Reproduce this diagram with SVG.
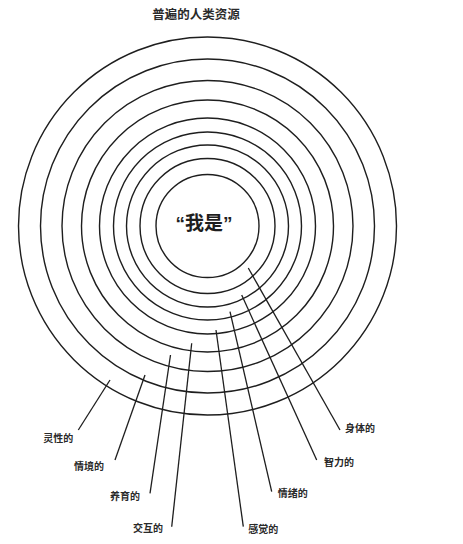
<svg xmlns="http://www.w3.org/2000/svg" width="463" height="544" viewBox="0 0 463 544">
<style>
.ring{fill:none;stroke:#1e1e1e;stroke-width:1.4}
.lead{stroke:#1e1e1e;stroke-width:1.3;fill:none}
.lbl{font-family:"Liberation Sans","Noto Sans CJK SC",sans-serif;font-size:10px;font-weight:bold;fill:#2a2a2a}
.title{font-family:"Liberation Sans","Noto Sans CJK SC",sans-serif;font-size:12.5px;font-weight:bold;fill:#2a2a2a}
.core{font-family:"Liberation Sans","Noto Sans CJK SC",sans-serif;font-size:19px;font-weight:bold;fill:#1e1e1e}
</style>
<rect width="463" height="544" fill="#ffffff"/>
<text id="title" class="title" x="196" y="18.5" text-anchor="middle">普遍的人类资源</text>
<g id="rings">
<circle id="ring1" class="ring" cx="207.5" cy="226" r="51.5"/>
<circle id="ring2" class="ring" cx="207.5" cy="226" r="67.5"/>
<circle id="ring3" class="ring" cx="207.5" cy="226" r="81"/>
<circle id="ring4" class="ring" cx="207.5" cy="226" r="94"/>
<circle id="ring5" class="ring" cx="207.5" cy="226" r="108"/>
<circle id="ring6" class="ring" cx="207.5" cy="226" r="126"/>
<circle id="ring7" class="ring" cx="207.5" cy="226" r="145.5"/>
<circle id="ring8" class="ring" cx="207.5" cy="226" r="167"/>
<circle id="ring9" class="ring" cx="207.5" cy="226" r="189"/>
</g>
<g id="core"><text class="core" x="204" y="230" text-anchor="middle">“我是”</text></g>
<g id="connectors">
<line class="lead" x1="248.3" y1="268" x2="340" y2="430"/>
<line class="lead" x1="241.7" y1="295" x2="316.7" y2="460"/>
<line class="lead" x1="230" y1="311.7" x2="271.7" y2="491.7"/>
<line class="lead" x1="216" y1="330" x2="243.3" y2="526.7"/>
<line class="lead" x1="191.7" y1="343.3" x2="171.7" y2="526.7"/>
<line class="lead" x1="170.5" y1="355" x2="150" y2="493.3"/>
<line class="lead" x1="145" y1="375" x2="115" y2="460"/>
<line class="lead" x1="110" y1="380" x2="78.3" y2="430"/>
</g>
<g id="label-body"><text class="lbl" x="345" y="432">身体的</text></g>
<g id="label-intellect"><text class="lbl" x="324" y="465.5">智力的</text></g>
<g id="label-emotion"><text class="lbl" x="277.7" y="497">情绪的</text></g>
<g id="label-sense"><text class="lbl" x="248.3" y="533">感觉的</text></g>
<g id="label-interact"><text class="lbl" x="133" y="532">交互的</text></g>
<g id="label-nurture"><text class="lbl" x="110" y="500">养育的</text></g>
<g id="label-context"><text class="lbl" x="74" y="470">情境的</text></g>
<g id="label-spirit"><text class="lbl" x="43.3" y="442">灵性的</text></g>
</svg>
